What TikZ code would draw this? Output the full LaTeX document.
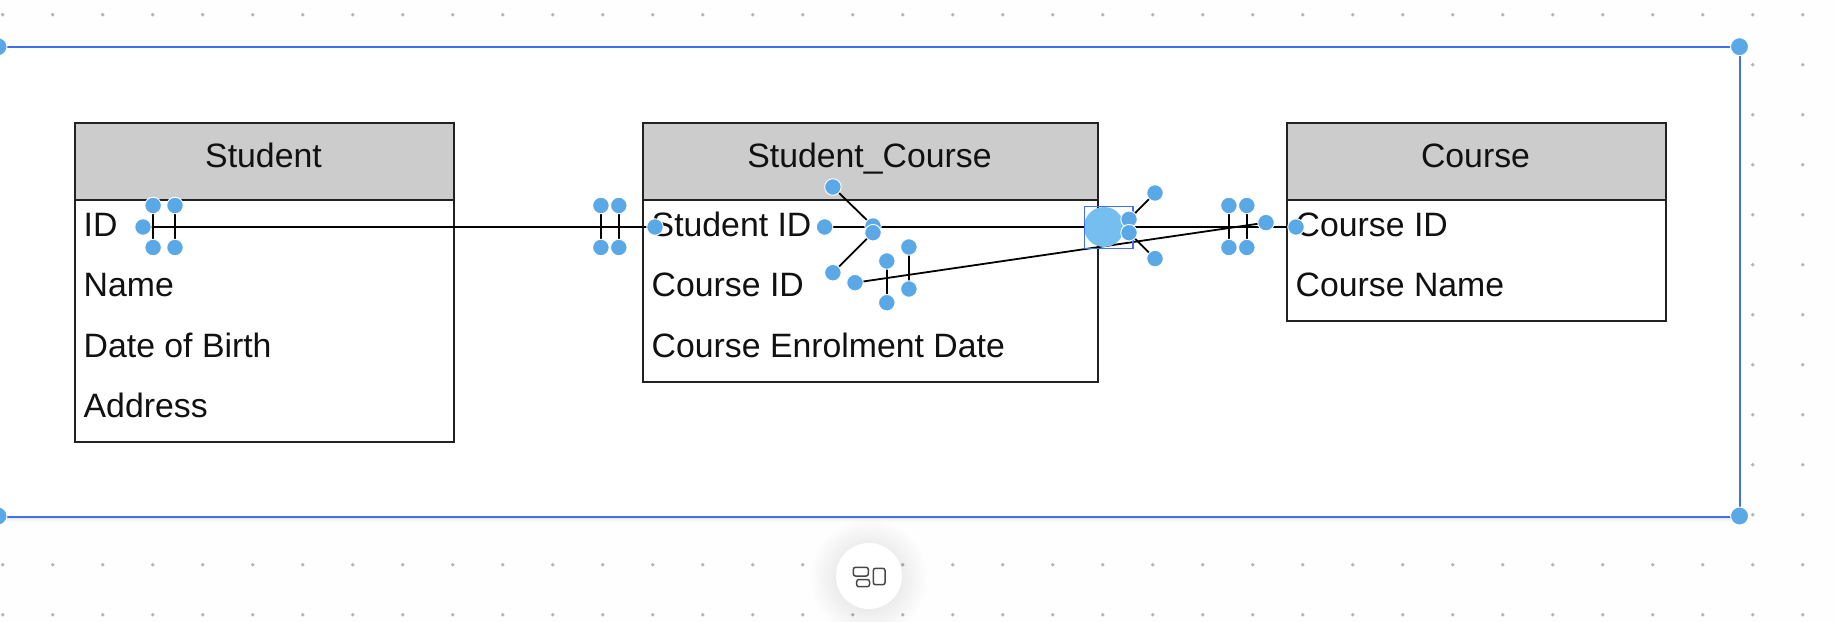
\documentclass[tikz,border=0pt]{standalone}
\usepackage{fontspec}
\setmainfont{Liberation Sans}
\pgfdeclarelayer{ground}
\pgfdeclarelayer{tables}
\pgfdeclarelayer{links}
\pgfsetlayers{ground,tables,links,main}
\definecolor{hnd}{HTML}{5AA9E6}
\definecolor{bigc}{HTML}{74BFF0}
\definecolor{frameblue}{HTML}{3F70F0}
\definecolor{headgrey}{HTML}{CCCCCC}
\definecolor{griddot}{HTML}{B4B4B4}
\definecolor{tline}{HTML}{222222}
\definecolor{ink}{HTML}{111111}
\definecolor{pagebg}{HTML}{FEFEFE}
\tikzset{
  px/.style={x=1bp,y=-1bp},
  hnd/.style={circle,fill=hnd,draw=white,line width=0.9bp,minimum size=16.5bp,inner sep=0pt},
  tabhead/.style={rectangle,anchor=north west,draw=tline,fill=headgrey,line width=2bp,inner sep=0pt},
  tabbody/.style={rectangle,anchor=north west,draw=tline,fill=white,line width=2bp,inner sep=0pt},
  lbl/.style={anchor=base west,inner sep=0pt,text=ink,font=\fontsize{33.8bp}{40bp}\selectfont},
  ttl/.style={anchor=base,inner sep=0pt,text=ink,font=\fontsize{33.8bp}{40bp}\selectfont},
  link/.style={draw=black,line width=1.8bp},
}
\begin{document}
\begin{tikzpicture}[px]
\useasboundingbox (0,0) rectangle (1835,622);
\begin{pgfonlayer}{ground}
\fill[pagebg] (0,0) rectangle (1835,622);
% dot grid
\foreach \i in {0,...,36}{\foreach \j in {0,...,12}{
  \fill[griddot] ({2.7+50*\i},{14.7+50*\j}) circle (1.9);
}}
% soft shadow under the frame
\foreach \k/\o in {1/.10,2/.07,3/.05,4/.03,5/.015}{
  \fill[black,opacity=\o] (0,{515.5+\k}) rectangle (1739,{516.5+\k});
}
% frame
\node[draw=frameblue,fill=white,line width=2.2bp,rectangle,anchor=north west,inner sep=0pt,minimum width=1741bp,minimum height=470bp] (frame) at (-2,46) {};
% button
\foreach \r in {58,55,...,33}{\fill[black,opacity=.008] (869,578) circle (\r);}
\node[circle,fill=white,minimum size=66bp,inner sep=0pt] (btn) at (869,576) {};
\foreach \a/\b/\c/\d in {853.3/567.3/868.3/576,856.7/579.5/869.5/586.7,873.3/568.3/885/584.7}{
  \draw[draw=black!72,line width=1.5bp,rounded corners=2.2bp] (\a,\b) rectangle (\c,\d);
}
\end{pgfonlayer}
% tables
\begin{pgfonlayer}{tables}
\node[tabbody,minimum width=379.5bp,minimum height=318.5bp] (stubody) at (73.5,122.5) {};
\node[tabhead,minimum width=379.5bp,minimum height=76.5bp] (stuhead) at (73.5,122.5) {};
\node[ttl] (stut) at (263.5,168) {Student};
\node[lbl] (stu1) at (83.5,236.5) {ID};
\node[lbl] (stu2) at (83.5,296.8) {Name};
\node[lbl] (stu3) at (83.5,357.1) {Date of Birth};
\node[lbl] (stu4) at (83.5,417.4) {Address};
\node[tabbody,minimum width=455.5bp,minimum height=258.5bp] (scbody) at (641.5,122.5) {};
\node[tabhead,minimum width=455.5bp,minimum height=76.5bp] (schead) at (641.5,122.5) {};
\node[ttl] (sct) at (869.5,168) {Student\_Course};
\node[lbl] (sc1) at (651.5,236.5) {Student ID};
\node[lbl] (sc2) at (651.5,296.8) {Course ID};
\node[lbl] (sc3) at (651.5,357.1) {Course Enrolment Date};
\node[tabbody,minimum width=379.5bp,minimum height=197.5bp] (cbody) at (1285.5,122.5) {};
\node[tabhead,minimum width=379.5bp,minimum height=76.5bp] (chead) at (1285.5,122.5) {};
\node[ttl] (ct) at (1475.5,168) {Course};
\node[lbl] (c1) at (1295.5,236.5) {Course ID};
\node[lbl] (c2) at (1295.5,296.8) {Course Name};
\end{pgfonlayer}
% selected waypoint
\node[circle,fill=bigc,minimum size=40bp,inner sep=0pt] (big) at (1104,227) {};
\node[rectangle,draw=frameblue,line width=1.5bp,anchor=north west,minimum width=48.5bp,minimum height=42bp,inner sep=0pt] (sel) at (1083.6,205.7) {};
% corner handles
\node[hnd,minimum size=18bp] (f1) at (-2,46.7) {};
\node[hnd,minimum size=18bp] (f2) at (1739.5,46.7) {};
\node[hnd,minimum size=18bp] (f3) at (-2,516) {};
\node[hnd,minimum size=18bp] (f4) at (1739.5,516) {};
% connector handles
\node[hnd] (a0) at (143,227) {};
\node[hnd] (a1) at (153.1,205.5) {};
\node[hnd] (a2) at (153.1,247.5) {};
\node[hnd] (a3) at (175,205.5) {};
\node[hnd] (a4) at (175,247.5) {};
\node[hnd] (b1) at (600.9,205.5) {};
\node[hnd] (b2) at (600.9,247.5) {};
\node[hnd] (b3) at (618.8,205.5) {};
\node[hnd] (b4) at (618.8,247.5) {};
\node[hnd] (b0) at (655,227) {};
\node[hnd] (d0) at (824.6,227) {};
\node[hnd] (d1) at (832.9,187) {};
\node[hnd] (d2) at (832.9,272.7) {};
\node[hnd] (d3) at (873,226) {};
\node[hnd] (d4) at (873,232.7) {};
\node[hnd] (e0) at (855,282.7) {};
\node[hnd] (e1) at (886.8,261) {};
\node[hnd] (e2) at (886.8,302.7) {};
\node[hnd] (e3) at (908.9,247) {};
\node[hnd] (e4) at (908.9,289) {};
\node[hnd] (g1) at (1129,219.3) {};
\node[hnd] (g2) at (1129,232.7) {};
\node[hnd] (g3) at (1155,193) {};
\node[hnd] (g4) at (1155,258.6) {};
\node[hnd] (h1) at (1228.9,205.5) {};
\node[hnd] (h2) at (1228.9,247.5) {};
\node[hnd] (h3) at (1246.8,205.5) {};
\node[hnd] (h4) at (1246.8,247.5) {};
\node[hnd] (h0) at (1266,222.6) {};
\node[hnd] (h5) at (1296,227) {};
% connectors
\begin{pgfonlayer}{links}
\draw[link] (a0.center) -- (b0.center);
\draw[link] (a1.center) -- (a2.center);
\draw[link] (a3.center) -- (a4.center);
\draw[link] (b1.center) -- (b2.center);
\draw[link] (b3.center) -- (b4.center);
\draw[link] (d0.center) -- (h5.center);
\draw[link] (d1.center) -- (d3.center);
\draw[link] (d2.center) -- (d4.center);
\draw[link] (e0.center) -- (h0.center);
\draw[link] (e1.center) -- (e2.center);
\draw[link] (e3.center) -- (e4.center);
\draw[link] (g3.center) -- (g1.center);
\draw[link] (g4.center) -- (g2.center);
\draw[link] (h1.center) -- (h2.center);
\draw[link] (h3.center) -- (h4.center);
\end{pgfonlayer}
\end{tikzpicture}
\end{document}
